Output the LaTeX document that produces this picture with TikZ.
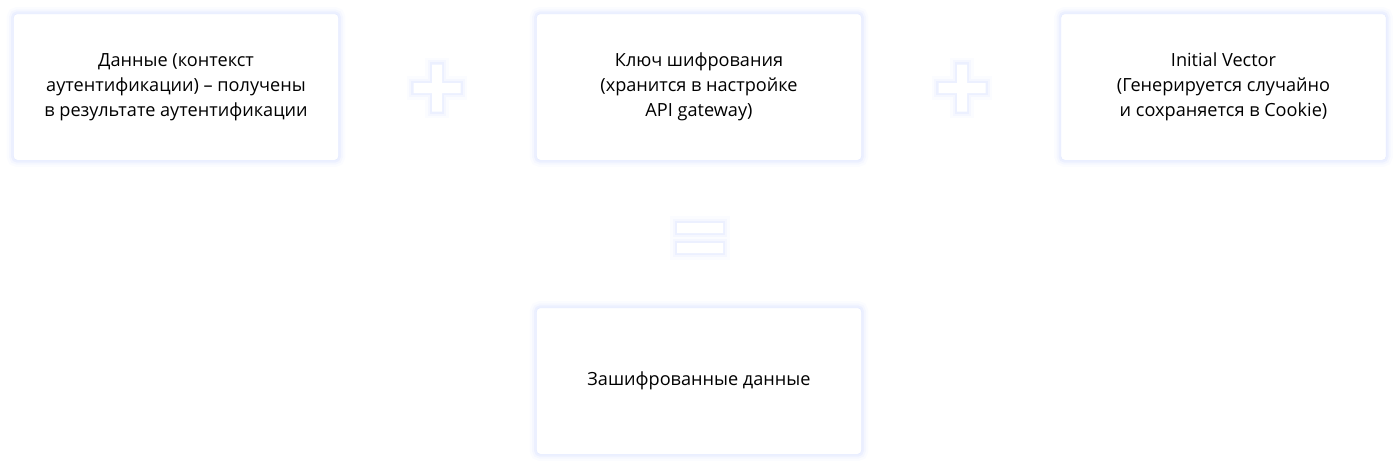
\documentclass[tikz,border=0pt]{standalone}
\usepackage{fontspec}
\setmainfont{Open Sans}
\usepackage{xcolor}
\definecolor{glow}{RGB}{200,212,255}
\begin{document}
\begin{tikzpicture}[x=0.75pt, y=-0.75pt,
		halo/.style={preaction={draw=glow, line width=10pt, opacity=0.07}, preaction={draw=glow, line width=6.5pt, opacity=0.12}, preaction={draw=glow, line width=3.5pt, opacity=0.2}},
		card/.style={halo, draw=glow!45, line width=0.5pt, fill=white, rounded corners=3pt, minimum width=244pt, minimum height=110pt, align=center, inner sep=0pt, font=\fontsize{13.6}{18.6}\selectfont}]
	\useasboundingbox (0,0) rectangle (1400,468);
	\node[card] (data) at (176,87) {Данные (контекст\\ аутентификации) – получены\\ в результате аутентификации};
	\node[card] (key) at (699,87) {Ключ шифрования\\ (хранится в настройке\\ API gateway)};
	\node[card] (iv) at (1223.5,87) {Initial Vector\\ (Генерируется случайно\\ и сохраняется в Cookie)};
	\node[card] (result) at (699,381) {Зашифрованные данные};
	% plus signs
	\foreach \cx in {437,962}
		\fill[white, halo] (\cx-23.5,83) rectangle (\cx+23.5,93) (\cx-5,64.5) rectangle (\cx+5,111.5);
	% equals sign
	\fill[white, halo] (677,223) rectangle (723,233) (677,243) rectangle (723,253);
\end{tikzpicture}
\end{document}
